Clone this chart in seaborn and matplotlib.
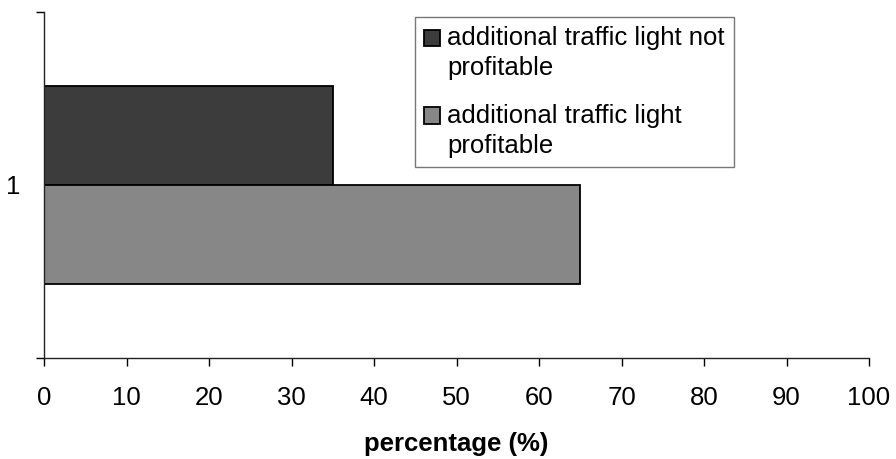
import pandas as pd
import matplotlib
matplotlib.use("Agg")
import matplotlib.pyplot as plt
import matplotlib.patches as mpatches
from matplotlib.legend_handler import HandlerPatch
import seaborn as sns

# data
categories = ["1"]
series_names = ["additional traffic light not\nprofitable",
                "additional traffic light\nprofitable"]
series_values = [35, 65]
bar_colors = ["#3c3c3c", "#878787"]
x_ticks = [0, 10, 20, 30, 40, 50, 60, 70, 80, 90, 100]

sns.set_style("white")
plt.rcParams["font.family"] = ["Liberation Sans", "DejaVu Sans"]
plt.rcParams["text.color"] = "black"
plt.rcParams["axes.labelcolor"] = "black"
plt.rcParams["xtick.color"] = "black"
plt.rcParams["ytick.color"] = "black"

FS = 18.5

df = pd.DataFrame({
    "category": [categories[0]] * len(series_names),
    "series": series_names,
    "value": series_values,
})

fig = plt.figure(figsize=(8.96, 4.59), dpi=100)
ax = fig.add_axes([44 / 896, 1 - 358 / 459, 825 / 896, 346 / 459])

sns.barplot(data=df, x="value", y="category", hue="series", orient="h",
            palette=bar_colors, width=0.57, edgecolor="black", linewidth=1.3,
            saturation=1, ax=ax)

ax.set_xlim(0, 100)
ax.set_ylim(0.5, -0.5)
ax.set_xticks(x_ticks)
ax.set_xticklabels([str(t) for t in x_ticks], fontsize=FS)
ax.set_yticks([-0.5, 0.5])
ax.set_yticklabels(["", ""])
ax.set_yticks([0], minor=True)
ax.set_yticklabels(categories, minor=True, fontsize=FS)
ax.tick_params(axis="y", which="major", length=6, width=1, direction="out", left=True)
ax.tick_params(axis="y", which="minor", length=0, pad=17)
ax.tick_params(axis="x", length=6, width=1, direction="out", bottom=True, pad=14)
ax.set_ylabel("")
ax.set_xlabel("percentage (%)", fontsize=FS, fontweight="bold", labelpad=16)

for side in ["top", "right"]:
    ax.spines[side].set_visible(False)
for side in ["left", "bottom"]:
    ax.spines[side].set_color("#222222")
    ax.spines[side].set_linewidth(1)


# legend square sits next to the first line of the label, like the original
def top_square(legend, orig_handle, xdescent, ydescent, width, height, fontsize):
    return mpatches.Rectangle((-xdescent, -ydescent + 0.62 * fontsize), width, height)


leg = ax.legend(loc="upper left", bbox_to_anchor=(0.45, 0.986), fontsize=FS,
                frameon=True, fancybox=False, edgecolor="#555555",
                handlelength=0.6, handleheight=0.6, handletextpad=0.3,
                labelspacing=0.9, borderpad=0.35, borderaxespad=0,
                handler_map={mpatches.Rectangle: HandlerPatch(patch_func=top_square)})
leg.get_frame().set_linewidth(1)
for t in leg.get_texts():
    t.set_linespacing(1.35)

fig.savefig("out.png", dpi=100)
